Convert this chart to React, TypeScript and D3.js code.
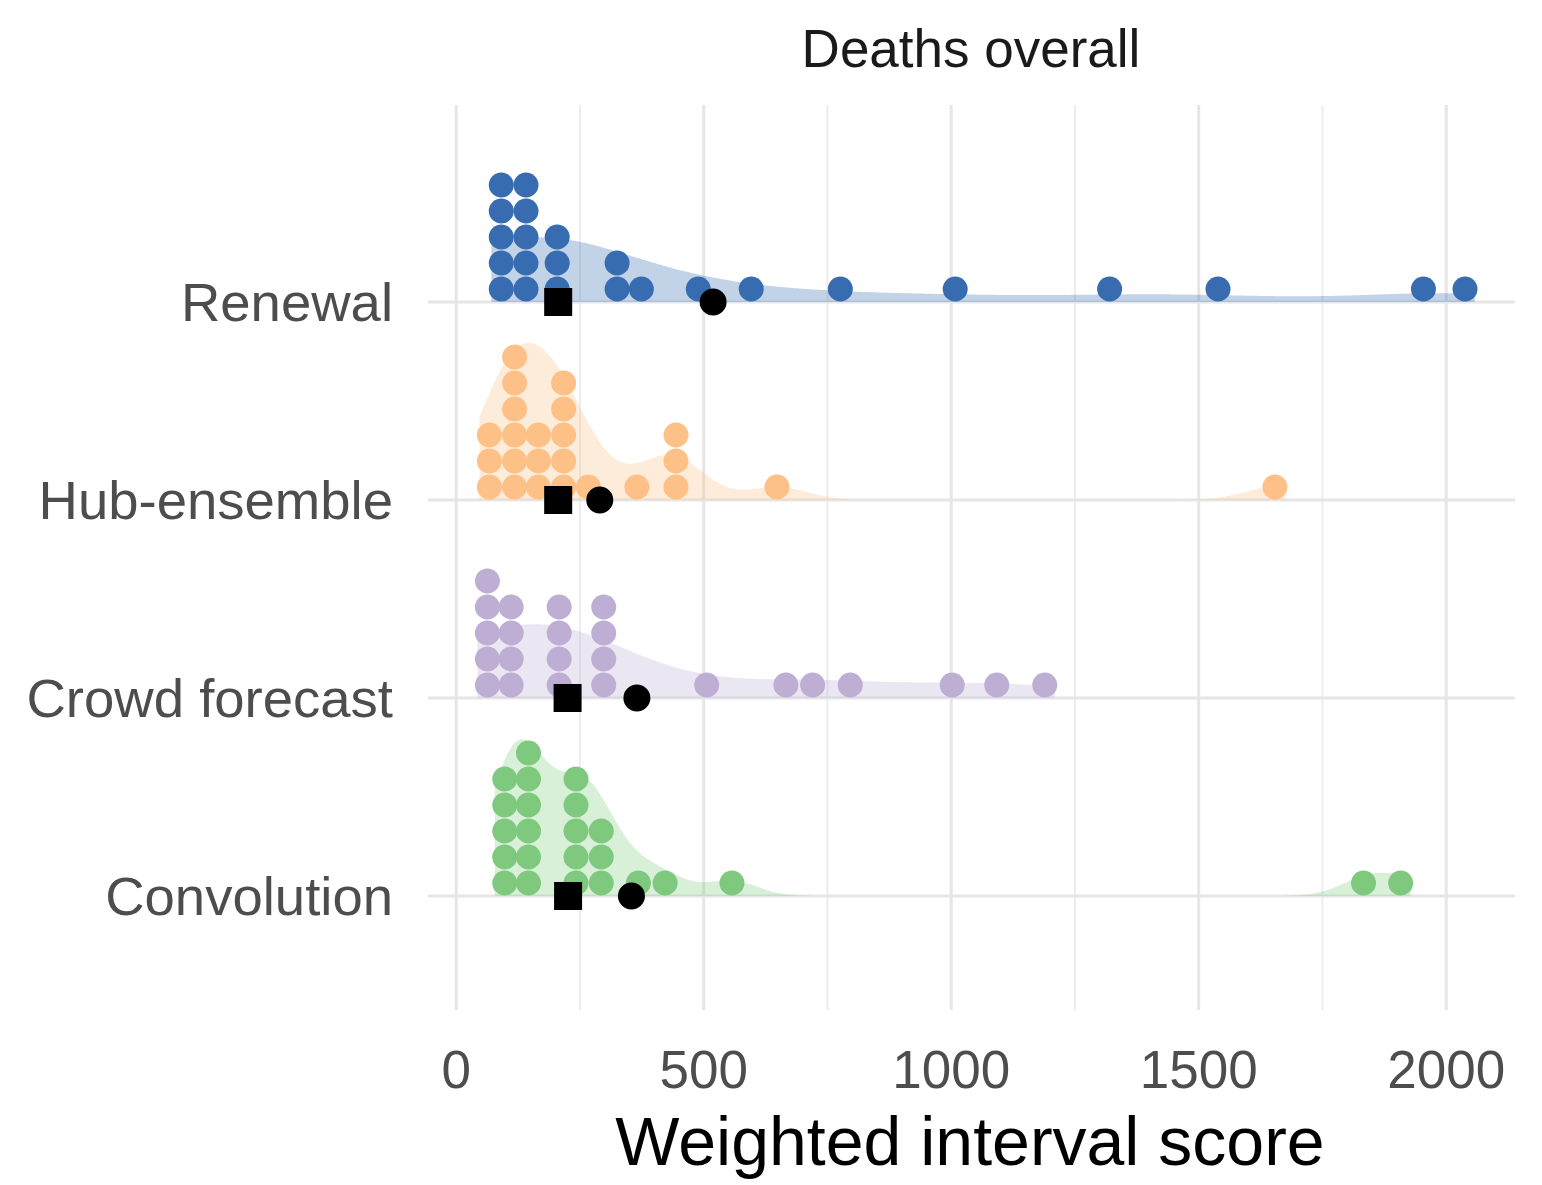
import React, { useEffect, useRef } from 'react';
import * as d3 from 'd3';

// models, top to bottom
const models = ['Renewal', 'Hub-ensemble', 'Crowd forecast', 'Convolution'];
const modelColors = ['#386cb0', '#fdc086', '#beaed4', '#7fc97f'];

// weighted interval scores
const renewalScores = [91, 91, 91, 91, 91, 141, 141, 141, 141, 141, 204, 204, 204, 325, 325, 374, 489, 596, 776, 1008, 1320, 1539, 1954, 2038];
const hubScores = [67, 67, 67, 118, 118, 118, 118, 118, 118, 166, 166, 166, 217, 217, 217, 217, 217, 267, 365, 444, 444, 444, 648, 1654];
const crowdScores = [63, 63, 63, 63, 63, 111, 111, 111, 111, 208, 208, 208, 208, 298, 298, 298, 298, 506, 666, 720, 796, 1002, 1092, 1189];
const convolutionScores = [98, 98, 98, 98, 98, 146, 146, 146, 146, 146, 146, 242, 242, 242, 242, 242, 293, 293, 293, 368, 422, 557, 1833, 1908];

// summary markers (square = median, circle = mean)
const medianScores = [206, 206, 225, 226];
const meanScores = [519, 290, 365, 354];

const majorTicks = [0, 500, 1000, 1500, 2000];
const minorTicks = [250, 750, 1250, 1750];

const FONT = '"Liberation Sans", Arial, Helvetica, sans-serif';

function bwNrd0(values) {
  const s = values.slice().sort((a, b) => a - b);
  const sd = d3.deviation(s);
  const iqr = d3.quantile(s, 0.75) - d3.quantile(s, 0.25);
  return 0.9 * Math.min(sd, iqr / 1.34) * Math.pow(s.length, -0.2);
}

function kde(values, bw, xs) {
  return xs.map(x => [x, d3.mean(values, v => Math.exp(-0.5 * ((x - v) / bw) ** 2)) / (bw * Math.sqrt(2 * Math.PI))]);
}

function App() {
  const svgRef = useRef();

  useEffect(() => {
    const width = 1542;
    const height = 1185;
    const panelTop = 105;
    const panelBottom = 1010;
    const dotR = 12.5;
    const dotStep = 26;
    const slabMax = 157;

    const svg = d3.select(svgRef.current)
      .attr('width', width)
      .attr('height', height);
    svg.selectAll('*').remove();

    const x = d3.scaleLinear().domain([-57, 2139]).range([428, 1515]);
    const y = d3.scalePoint().domain(models).range([302, 896]);

    const allScores = [renewalScores, hubScores, crowdScores, convolutionScores];

    // grid
    const grid = svg.append('g');
    grid.selectAll('line.minor')
      .data(minorTicks)
      .enter().append('line')
      .attr('x1', d => x(d)).attr('x2', d => x(d))
      .attr('y1', panelTop).attr('y2', panelBottom)
      .attr('stroke', '#ebebeb').attr('stroke-width', 1.8);
    grid.selectAll('line.major')
      .data(majorTicks)
      .enter().append('line')
      .attr('x1', d => x(d)).attr('x2', d => x(d))
      .attr('y1', panelTop).attr('y2', panelBottom)
      .attr('stroke', '#e6e6e6').attr('stroke-width', 3);
    grid.selectAll('line.h')
      .data(models)
      .enter().append('line')
      .attr('x1', x.range()[0]).attr('x2', x.range()[1])
      .attr('y1', d => y(d)).attr('y2', d => y(d))
      .attr('stroke', '#e6e6e6').attr('stroke-width', 3);

    // densities
    const densities = allScores.map(vals => {
      const bw = bwNrd0(vals);
      const lo = d3.min(vals) - 20;
      const hi = d3.max(vals) + 20;
      return kde(vals, bw, d3.range(lo, hi, 2).concat([hi]));
    });
    const maxDens = d3.max(densities, dd => d3.max(dd, d => d[1]));
    const h = d3.scaleLinear().domain([0, maxDens]).range([0, slabMax]);

    models.forEach((m, i) => {
      const base = y(m);
      const area = d3.area()
        .x(d => x(d[0]))
        .y0(base)
        .y1(d => base - h(d[1]))
        .curve(d3.curveBasis);
      svg.append('path')
        .datum(densities[i])
        .attr('d', area)
        .attr('fill', modelColors[i])
        .attr('fill-opacity', 0.3);
    });

    // stacked dots
    models.forEach((m, i) => {
      const base = y(m);
      const counts = d3.rollups(allScores[i], v => v.length, d => d);
      const dots = [];
      counts.forEach(([val, n]) => {
        for (let k = 0; k < n; k++) dots.push({ val, k });
      });
      svg.append('g')
        .selectAll('circle')
        .data(dots)
        .enter().append('circle')
        .attr('cx', d => x(d.val))
        .attr('cy', d => base - dotR - 0.5 - d.k * dotStep)
        .attr('r', dotR)
        .attr('fill', modelColors[i]);
    });

    // median squares and mean circles
    const side = 28;
    svg.append('g').selectAll('rect')
      .data(models)
      .enter().append('rect')
      .attr('x', (d, i) => x(medianScores[i]) - side / 2)
      .attr('y', d => y(d) - side / 2)
      .attr('width', side).attr('height', side)
      .attr('fill', '#000');
    svg.append('g').selectAll('circle')
      .data(models)
      .enter().append('circle')
      .attr('cx', (d, i) => x(meanScores[i]))
      .attr('cy', d => y(d))
      .attr('r', 13.5)
      .attr('fill', '#000');

    // y labels
    svg.append('g').selectAll('text')
      .data(models)
      .enter().append('text')
      .attr('x', 393)
      .attr('y', d => y(d) + 19)
      .attr('text-anchor', 'end')
      .attr('font-family', FONT)
      .attr('font-size', 54.5)
      .attr('fill', '#4d4d4d')
      .text(d => d);

    // x tick labels
    svg.append('g').selectAll('text')
      .data(majorTicks)
      .enter().append('text')
      .attr('x', d => x(d))
      .attr('y', 1088)
      .attr('text-anchor', 'middle')
      .attr('font-family', FONT)
      .attr('font-size', 53)
      .attr('fill', '#4d4d4d')
      .text(d => d);

    // titles
    svg.append('text')
      .attr('x', 971).attr('y', 67)
      .attr('text-anchor', 'middle')
      .attr('font-family', FONT)
      .attr('font-size', 53)
      .attr('fill', '#1a1a1a')
      .text('Deaths overall');

    svg.append('text')
      .attr('x', 970).attr('y', 1165)
      .attr('text-anchor', 'middle')
      .attr('font-family', FONT)
      .attr('font-size', 68)
      .attr('fill', '#000')
      .text('Weighted interval score');
  }, []);

  return (
    <div>
      <svg ref={svgRef} style={{ position: 'absolute', left: 0, top: 0 }}></svg>
    </div>
  );
}

export default App;
